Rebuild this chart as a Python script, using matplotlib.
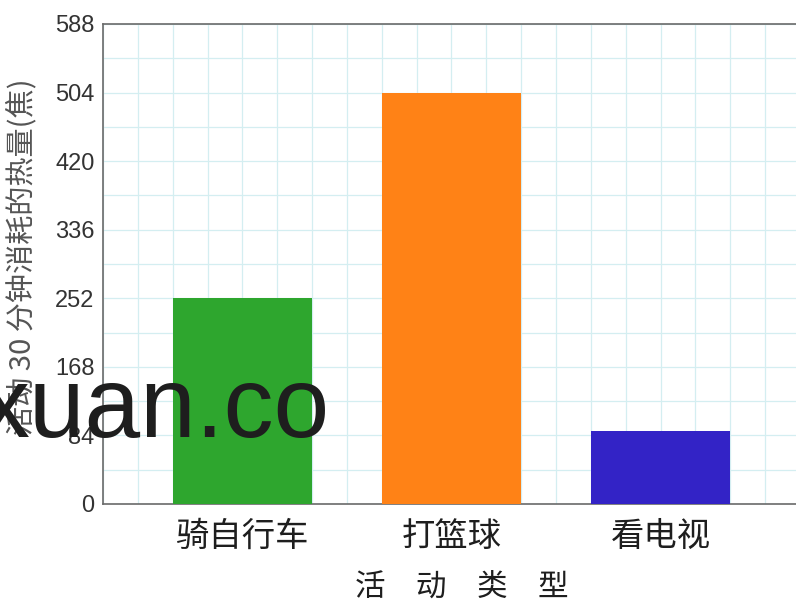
import numpy as np
import matplotlib
matplotlib.use("Agg")
import matplotlib.pyplot as plt
from matplotlib.ticker import MultipleLocator

# data
activities = ["骑自行车", "打篮球", "看电视"]
calories = [252, 504, 89]
bar_colors = ["#2ea62e", "#ff8216", "#3323c6"]
y_ticks = [0, 84, 168, 252, 336, 420, 504, 588]

plt.rcParams["font.family"] = ["Noto Sans CJK SC", "DejaVu Sans"]

fig = plt.figure(figsize=(7.96, 6.08), dpi=100)
ax = fig.add_axes([103 / 796, 104 / 608, 697 / 796, 480 / 608])

# bars sit on a grid of 20 units, each bar 4 units wide
x_pos = np.array([4, 10, 16])
ax.bar(x_pos, calories, width=4, color=bar_colors, zorder=3)

ax.set_xlim(0, 20)
ax.set_ylim(0, 588)
ax.set_yticks(y_ticks)
ax.yaxis.set_minor_locator(MultipleLocator(42))
ax.xaxis.set_minor_locator(MultipleLocator(1))
ax.set_xticks(x_pos)
ax.set_xticklabels(activities, fontsize=24, color="#1e1e1e", fontweight="medium")

ax.grid(True, which="both", color="#d4eef1", lw=0.9, zorder=0)
# little dark dots where grid lines cross
gx, gy = np.meshgrid(np.arange(1, 20), np.arange(42, 588, 42))
ax.scatter(gx.ravel(), gy.ravel(), marker="+", s=10, lw=0.6,
           color="#9fb2b4", zorder=1)

ax.tick_params(axis="both", which="both", length=0)
ax.tick_params(axis="x", pad=11)
ax.tick_params(axis="y", pad=6, labelsize=17, labelcolor="#333333")
for lab in ax.get_yticklabels():
    lab.set_fontfamily(["Liberation Sans", "DejaVu Sans"])

for side in ["left", "top", "bottom"]:
    ax.spines[side].set_color("#6a6a6a")
    ax.spines[side].set_linewidth(1.2)
ax.spines["right"].set_visible(False)

fig.text(22 / 796, 1 - 257 / 608, "活动 30 分钟消耗的热量(焦)", rotation=90,
         ha="center", va="center", fontsize=21, color="#555555")
fig.text(462 / 796, 1 - 572 / 608, "活　动　类　型", ha="center", va="top",
         fontsize=22, color="#1e1e1e", fontweight="medium")

# watermark across the lower left
fig.text(330 / 796, 1 - 437 / 608, "xuan.co", ha="right", va="baseline",
         fontsize=72, color="#1e1e1e",
         family=["Liberation Sans", "DejaVu Sans"], zorder=10)

fig.savefig("out.png", dpi=100)
